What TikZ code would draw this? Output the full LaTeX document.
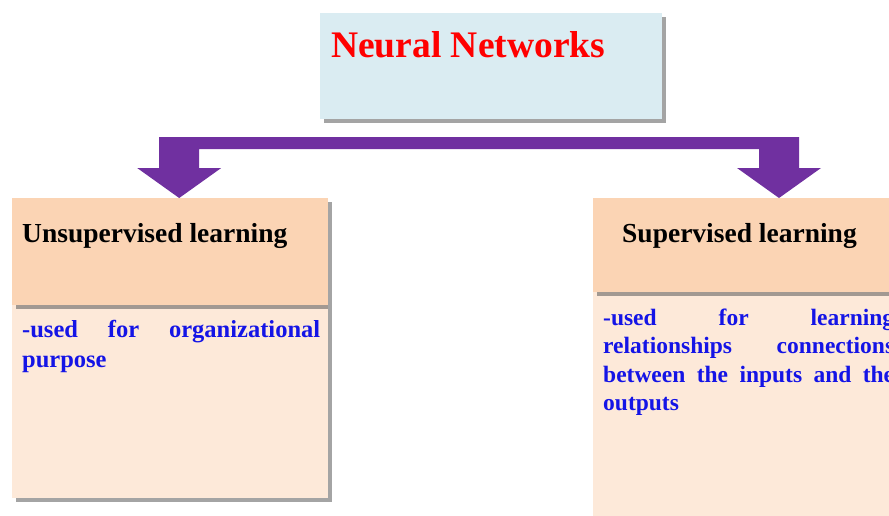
\documentclass[tikz,border=0pt]{standalone}
\usepackage{fontspec}
\setmainfont{Liberation Serif}
\usetikzlibrary{calc, shadows, positioning}

\definecolor{titleblue}{HTML}{DAECF2}
\definecolor{peach}{HTML}{FBD4B4}
\definecolor{peachlight}{HTML}{FDE9D9}
\definecolor{arrowpurple}{HTML}{7030A0}
\definecolor{textblue}{HTML}{1414E6}

\tikzset{
	boxshadow/.style={drop shadow={shadow xshift=4pt, shadow yshift=-4pt, fill=black!65, opacity=0.55}},
	titlebox/.style={fill=titleblue, boxshadow, anchor=north west, inner sep=0pt},
	headbox/.style={fill=peach, boxshadow, anchor=north west, inner sep=0pt},
	bodybox/.style={fill=peachlight, boxshadow, anchor=north west, inner sep=0pt},
	headtext/.style={anchor=base west, inner sep=0pt, font=\fontsize{27.5}{33}\selectfont\bfseries},
	bodytext/.style={anchor=base west, inner sep=0pt, align=left, text=textblue},
}

\begin{document}
\begin{tikzpicture}[x=1pt, y=-1pt]
	\useasboundingbox (0,0) rectangle (889,515);
	\clip (0,0) rectangle (889,515);

	% title
	\node[titlebox, minimum width=342pt, minimum height=106pt] (title) at (320,13) {};
	\node[anchor=base west, inner sep=0pt, text=red, font=\fontsize{37.5}{45}\selectfont\bfseries] (titletext) at ([shift={(11,44)}]title.north west) {Neural Networks};

	% left column
	\node[bodybox, minimum width=316pt, minimum height=193pt] (unsupbody) at (12,305) {};
	\node[headbox, minimum width=316pt, minimum height=107pt] (unsuphead) at (12,198) {};
	\node[headtext] (unsuptitle) at ([shift={(10,44)}]unsuphead.north west) {Unsupervised learning};
	\node[bodytext, text width=298pt, font=\fontsize{24.5}{30}\selectfont\bfseries] (unsuptext) at ([shift={(10,32)}]unsupbody.north west)
		{-used\hfill for\hfill organizational\\purpose};

	% right column
	\node[bodybox, minimum width=310pt, minimum height=225pt] (supbody) at (593,292) {};
	\node[headbox, minimum width=310pt, minimum height=94pt] (suphead) at (593,198) {};
	\node[headtext] (suptitle) at ([shift={(29,44)}]suphead.north west) {Supervised learning};
	\node[bodytext, text width=291pt, font=\fontsize{23.5}{28.5}\selectfont\bfseries] (suptext) at ([shift={(10,33)}]supbody.north west)
		{-used\hfill for\hfill learning\\relationships\hfill connections\\between\hfill the\hfill inputs\hfill and\hfill the\\outputs};

	% connector
	\coordinate (ltip) at ([xshift=9pt]unsuphead.north);
	\coordinate (rtip) at ([xshift=186pt]suphead.north west);
	\fill[arrowpurple] (ltip) -- ++(-42,-30) -- ++(22,0) |- ($(rtip)+(20,-61)$) -- ++(0,31) -- ++(22,0) -- (rtip)
		-- ++(-42,-30) -- ++(22,0) |- ($(ltip)+(20,-49)$) -- ++(0,19) -- ++(22,0) -- cycle;
\end{tikzpicture}
\end{document}
